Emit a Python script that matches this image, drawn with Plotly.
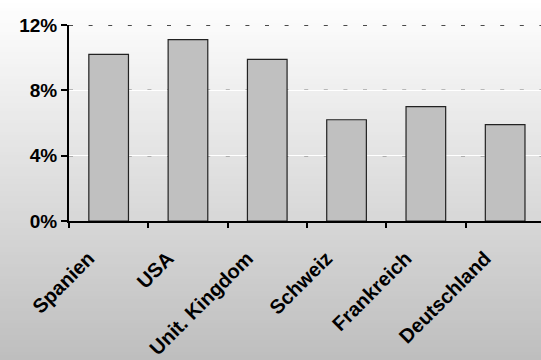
import plotly.graph_objects as go

# Data
countries = ["Spanien", "USA", "Unit. Kingdom", "Schweiz", "Frankreich", "Deutschland"]
shares = [10.2, 11.1, 9.9, 6.2, 7.0, 5.9]
y_ticks = [0, 4, 8, 12]
y_tick_text = [f"{v}%" for v in y_ticks]

W, H = 541, 360
ML, MR, MT, MB = 69, 0, 25, 139
plot_h = H - MT - MB
plot_w = W - ML - MR
cat_px = 79.3
x_range = [-0.5, -0.5 + plot_w / cat_px]

fig = go.Figure()
fig.add_trace(go.Bar(
    x=countries, y=shares, width=0.5,
    marker=dict(color="#c0c0c0", line=dict(color="#222222", width=1.2)),
    hoverinfo="x+y",
))

shapes = []
# vertical background gradient: white at top to silver at the bottom
n = 90
for i in range(n):
    top_px = H * i / n
    bot_px = H * (i + 1) / n
    t = (i + 0.5) / n
    c = round(255 - (255 - 190) * t)
    y1 = 1 + (MT - top_px) / plot_h
    y0 = 1 + (MT - bot_px) / plot_h
    shapes.append(dict(type="rect", xref="paper", yref="paper",
                       x0=-0.3, x1=1.1, y0=y0, y1=y1 + 0.002,
                       fillcolor=f"rgb({c},{c},{c})", line=dict(width=0),
                       layer="below"))
# dashed dark grid strokes over the white grid lines (beneath the bars)
for v in y_ticks[1:]:
    shapes.append(dict(type="line", xref="x", yref="y",
                       x0=x_range[0], x1=x_range[1], y0=v, y1=v,
                       line=dict(color="#111111", width=1.3, dash="4px,15.6px"),
                       layer="below"))

fig.update_layout(
    width=W, height=H,
    margin=dict(l=ML, r=MR, t=MT, b=MB, pad=0),
    paper_bgcolor="white",
    plot_bgcolor="rgba(0,0,0,0)",
    showlegend=False,
    shapes=shapes,
    font=dict(family="Arial, Liberation Sans, sans-serif", color="black"),
    xaxis=dict(
        range=x_range,
        showline=True, linecolor="black", linewidth=1.5,
        ticks="outside", tickson="boundaries", ticklen=5, tickcolor="black", tickwidth=1.5,
        tickangle=-45,
        tickfont=dict(size=20, family="Arial, Liberation Sans", weight="bold"),
        ticklabelstandoff=16, ticklabelshift=-20,
        showgrid=False, zeroline=False,
    ),
    yaxis=dict(
        range=[0, 12], tickmode="array", tickvals=y_ticks, ticktext=y_tick_text,
        showline=True, linecolor="black", linewidth=2,
        ticks="outside", ticklen=6, tickcolor="black", tickwidth=1.5,
        tickfont=dict(size=19, family="Arial, Liberation Sans", weight="bold"),
        showgrid=True, gridcolor="white", gridwidth=1,
        zeroline=False,
    ),
)

fig.write_html("out.html")
